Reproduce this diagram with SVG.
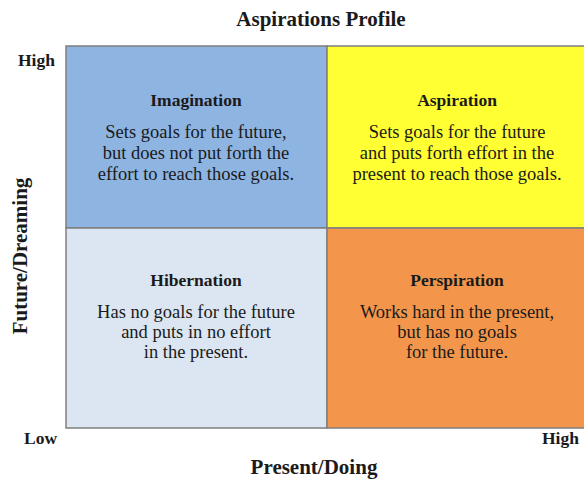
<svg xmlns="http://www.w3.org/2000/svg" width="584" height="481" viewBox="0 0 584 481">
<style>
text{font-family:"Liberation Serif","Times New Roman",serif;fill:#1a1a1a}
.t{font-size:21px;font-weight:bold}
.ax{font-size:21px;font-weight:bold}
.e{font-size:17.5px;font-weight:bold}
.h{font-size:17.5px;font-weight:bold;text-anchor:middle}
.d{font-size:18.5px;text-anchor:middle}
.q{stroke:#7f7f7f;stroke-width:1.5}
</style>
<rect width="584" height="481" fill="#fff"/>
<text class="t" x="321" y="26" text-anchor="middle">Aspirations Profile</text>
<g id="imagination">
<rect class="q" x="66" y="46" width="261" height="182" fill="#8EB4E2"/>
<text class="h" x="196" y="106">Imagination</text>
<text class="d" x="196" y="138">Sets goals for the future,</text>
<text class="d" x="196" y="159">but does not put forth the</text>
<text class="d" x="196" y="180">effort to reach those goals.</text>
</g>
<g id="aspiration">
<rect class="q" x="327" y="46" width="260" height="182" fill="#FFFF33"/>
<text class="h" x="457" y="106">Aspiration</text>
<text class="d" x="457" y="138">Sets goals for the future</text>
<text class="d" x="457" y="159">and puts forth effort in the</text>
<text class="d" x="457" y="180">present to reach those goals.</text>
</g>
<g id="hibernation">
<rect class="q" x="66" y="228" width="261" height="200" fill="#DCE6F2"/>
<text class="h" x="196" y="286">Hibernation</text>
<text class="d" x="196" y="318">Has no goals for the future</text>
<text class="d" x="196" y="338">and puts in no effort</text>
<text class="d" x="196" y="358">in the present.</text>
</g>
<g id="perspiration">
<rect class="q" x="327" y="228" width="260" height="200" fill="#F3964C"/>
<text class="h" x="457" y="286">Perspiration</text>
<text class="d" x="457" y="318">Works hard in the present,</text>
<text class="d" x="457" y="338">but has no goals</text>
<text class="d" x="457" y="358">for the future.</text>
</g>
<g id="connectors"></g>
<g id="axes">
<text class="e" x="18" y="66">High</text>
<text class="e" x="24" y="444">Low</text>
<text class="e" x="542" y="444">High</text>
<text class="ax" x="314" y="474" text-anchor="middle">Present/Doing</text>
<text class="ax" transform="translate(27,256) rotate(-90)" text-anchor="middle">Future/Dreaming</text>
</g>
</svg>
